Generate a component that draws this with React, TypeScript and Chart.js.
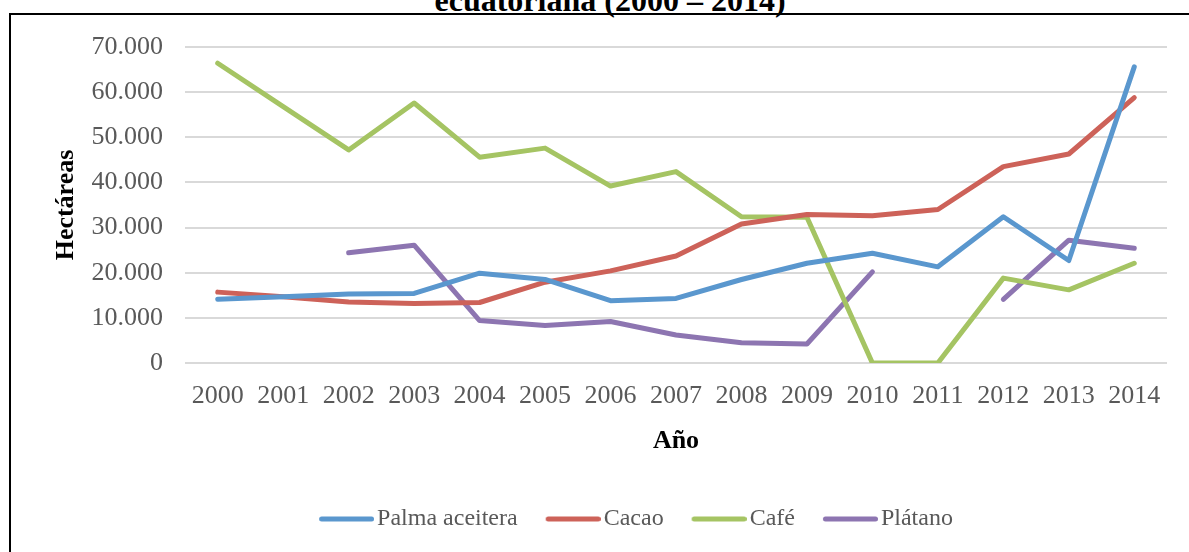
import React, { useEffect, useRef } from "react";
import { Chart, registerables } from "chart.js";

Chart.register(...registerables);

const years = ["2000", "2001", "2002", "2003", "2004", "2005", "2006", "2007", "2008", "2009", "2010", "2011", "2012", "2013", "2014"];
const palma = [14100, 14700, 15300, 15400, 19900, 18500, 13800, 14300, 18500, 22100, 24300, 21300, 32400, 22700, 65600];
const cacao = [15700, 14700, 13500, 13200, 13400, 17900, 20400, 23700, 30800, 32900, 32600, 34000, 43500, 46300, 58800];
const cafe = [66400, 56800, 47200, 57600, 45600, 47600, 39200, 42400, 32400, 32300, 0, 0, 18800, 16200, 22100];
const platano = [null, null, 24400, 26100, 9400, 8300, 9200, 6200, 4500, 4200, 20200, null, 14100, 27200, 25400];

const seriesNames = ["Palma aceitera", "Cacao", "Café", "Plátano"];
const seriesColors = ["#5A97CE", "#CD6259", "#A5C463", "#8D75B1"];
const yTicks = [0, 10000, 20000, 30000, 40000, 50000, 60000, 70000];

const titleText = "ecuatoriana (2000 – 2014)";
const yTitle = "Hectáreas";
const xTitle = "Año";

const FONT = "'Liberation Serif', 'Times New Roman', serif";

const fmt = (v: number) => String(v).replace(/\B(?=(\d{3})+(?!\d))/g, ".");

// legend swatch: a rounded line that reaches close to the label text
const makeSwatch = (color: string) => {
  const c = document.createElement("canvas");
  c.width = 64;
  c.height = 8;
  const ctx = c.getContext("2d");
  if (ctx) {
    ctx.strokeStyle = color;
    ctx.lineWidth = 5;
    ctx.lineCap = "round";
    ctx.beginPath();
    ctx.moveTo(11.5, 4);
    ctx.lineTo(61.5, 4);
    ctx.stroke();
  }
  return c;
};

const shiftLegend = {
  id: "shiftLegend",
  afterLayout(chart: any) {
    const l = chart.legend;
    if (l) {
      l.left += 27;
      l.right += 27;
    }
  },
};

export default function App() {
  const ref = useRef<HTMLCanvasElement | null>(null);

  useEffect(() => {
    if (!ref.current) return;
    const values = [palma, cacao, cafe, platano];
    const swatches = seriesColors.map(makeSwatch);
    const chart = new Chart(ref.current, {
      type: "line",
      data: {
        labels: years,
        datasets: seriesNames.map((name, i) => ({
          label: name,
          data: values[i],
          borderColor: seriesColors[i],
          backgroundColor: seriesColors[i],
          borderWidth: 5,
          borderCapStyle: "round",
          borderJoinStyle: "round",
          pointRadius: 0,
          pointHoverRadius: 0,
          tension: 0,
          spanGaps: false,
          fill: false,
        })),
      },
      options: {
        responsive: false,
        animation: false,
        layout: { padding: { left: 51, right: 22, top: 47, bottom: 11 } },
        plugins: {
          tooltip: { enabled: false },
          title: { display: false },
          legend: {
            position: "bottom",
            align: "center",
            labels: {
              usePointStyle: true,
              pointStyleWidth: 46,
              padding: 28,
              color: "#595959",
              font: { family: FONT, size: 24 },
              generateLabels: (chart: any) => {
                const items = Chart.defaults.plugins.legend.labels.generateLabels(chart);
                return items.map((it: any, i: number) => ({ ...it, pointStyle: swatches[i] }));
              },
            },
          },
        },
        scales: {
          x: {
            type: "category",
            offset: true,
            grid: { display: false, drawTicks: false },
            border: { display: false },
            ticks: {
              color: "#595959",
              font: { family: FONT, size: 26 },
              padding: 18,
              maxRotation: 0,
              autoSkip: false,
            },
            title: {
              display: true,
              text: xTitle,
              color: "#000000",
              font: { family: FONT, size: 26, weight: "bold" },
              padding: { top: 0, bottom: 22 },
            },
            afterFit: (scale: any) => {
              scale.height = 116;
            },
          },
          y: {
            min: 0,
            max: 70000,
            afterBuildTicks: (scale: any) => {
              scale.ticks = yTicks.map((v) => ({ value: v }));
            },
            grid: { color: "#D9D9D9", lineWidth: 2, drawTicks: false },
            border: { display: false },
            ticks: {
              color: "#595959",
              font: { family: FONT, size: 26 },
              padding: 22,
              callback: (v: any) => fmt(Number(v)),
            },
            title: {
              display: true,
              text: yTitle,
              color: "#000000",
              font: { family: FONT, size: 26, weight: "bold" },
              padding: { top: 0, bottom: 0 },
            },
            afterFit: (scale: any) => {
              scale.width = 134;
            },
          },
        },
      },
      plugins: [shiftLegend],
    } as any);
    return () => chart.destroy();
  }, []);

  return (
    <div
      style={{
        position: "fixed",
        left: 0,
        top: 0,
        width: 1189,
        height: 552,
        overflow: "hidden",
        background: "#ffffff",
      }}
    >
      <div
        style={{
          position: "absolute",
          left: 0,
          width: 1220,
          top: -16,
          textAlign: "center",
          fontFamily: FONT,
          fontWeight: "bold",
          fontSize: 32,
          lineHeight: "32px",
          color: "#000",
          whiteSpace: "nowrap",
        }}
      >
        {titleText}
      </div>
      <div
        style={{
          position: "absolute",
          left: 9,
          top: 13,
          width: 1300,
          height: 700,
          borderLeft: "2px solid #000",
          borderTop: "2px solid #000",
        }}
      />
      <canvas
        ref={ref}
        width={1189}
        height={552}
        style={{ position: "absolute", left: 0, top: 0, width: 1189, height: 552 }}
      />
    </div>
  );
}
